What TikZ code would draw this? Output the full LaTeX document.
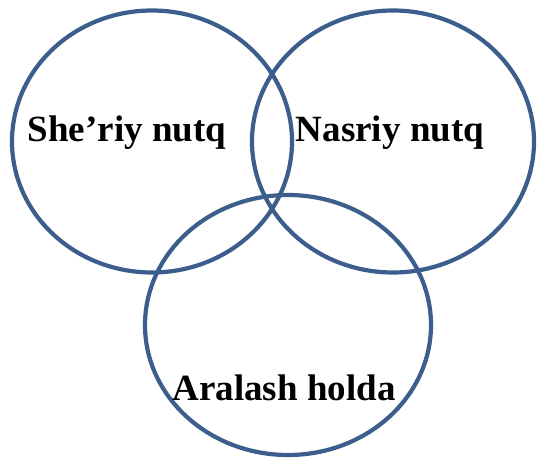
\documentclass[tikz,border=0pt]{standalone}
\usepackage{fontspec}
\setmainfont{Liberation Serif}
\begin{document}
\begin{tikzpicture}[x=1pt,y=-1pt,
  ring/.style={draw={rgb,255:red,59;green,94;blue,140},line width=4.2pt},
  lbl/.style={anchor=base,inner sep=0pt,font=\fontsize{37}{42}\selectfont\bfseries}]
\useasboundingbox (0,0) rectangle (537,457);
\draw[ring] (152,141.5) ellipse [x radius=140, y radius=131];
\draw[ring] (393,141.5) ellipse [x radius=141, y radius=131];
\draw[ring] (288,325) ellipse [x radius=143, y radius=130];
\node[lbl] (a) at (127,142) {She’riy nutq};
\node[lbl] (b) at (390,142) {Nasriy nutq};
\node[lbl] (c) at (284,400) {Aralash holda};
\end{tikzpicture}
\end{document}
